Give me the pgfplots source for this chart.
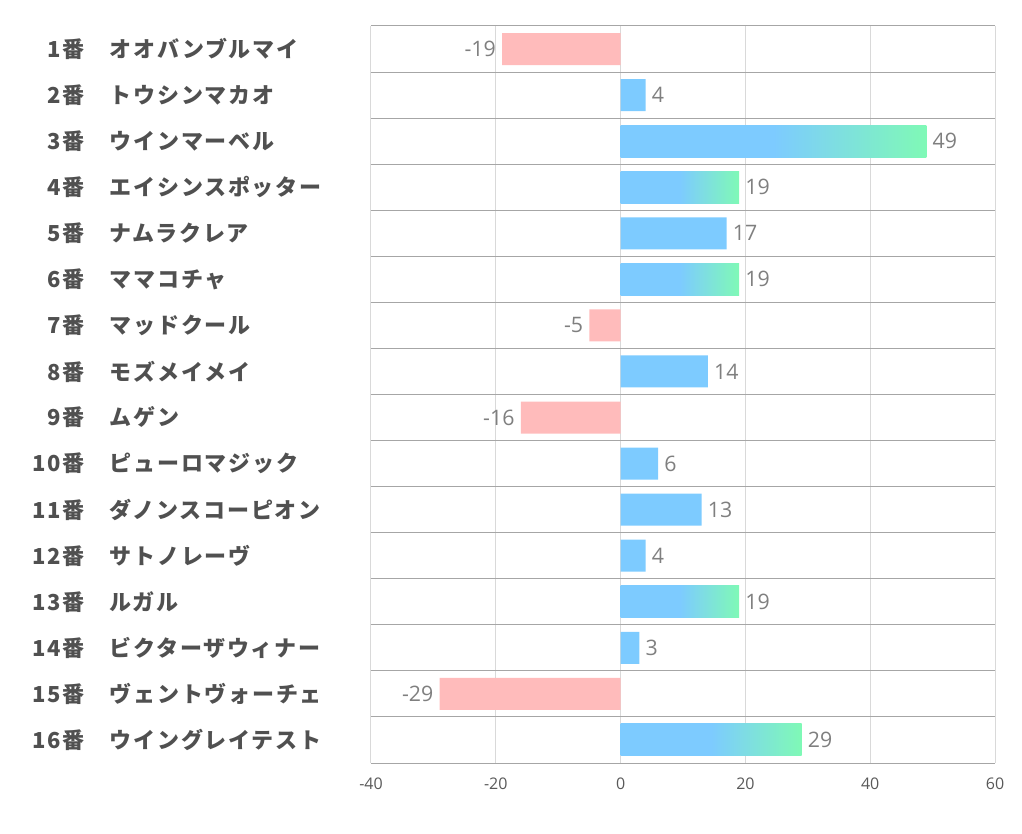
\documentclass[border=0pt]{standalone}
\usepackage{fontspec}
\usepackage{pgfplots}
\pgfplotsset{compat=1.18}
\newfontfamily\jp[LetterSpace=8]{Noto Sans CJK JP}
\newfontfamily\numfont{Open Sans}
\definecolor{barblue}{HTML}{7DCBFF}
\definecolor{bargreen}{HTML}{7FF9B6}
\definecolor{barpink}{HTML}{FFBBBB}
\definecolor{hline}{HTML}{A6A6A6}
\definecolor{vline}{HTML}{D9D9D9}
\definecolor{labgray}{HTML}{505050}
\definecolor{tickgray}{HTML}{595959}
\definecolor{numgray}{HTML}{7F7F7F}
\pgfdeclarehorizontalshading{bargrad}{100bp}{color(0bp)=(barblue); color(50bp)=(barblue); color(75bp)=(bargreen); color(100bp)=(bargreen)}
\newcommand\lab[2]{\makebox[48.75pt][r]{#1}\hspace{18.75pt}\makebox[195.75pt][l]{#2}}
\begin{document}
\begin{tikzpicture}
\path[use as bounding box] (0,0) rectangle (766.5pt,625.5pt);
\begin{axis}[at={(278.25pt,53.25pt)}, anchor=south west,
  width=468pt, height=552.75pt, scale only axis,
  xmin=-40, xmax=60, ymin=0.5, ymax=16.5, y dir=reverse,
  xtick={-40,-20,0,20,40,60}, ytick={1,...,16},
  minor ytick={0.5,1.5,...,16.5},
  xmajorgrids, yminorgrids,
  major x grid style={vline, line width=0.75pt},
  minor y grid style={hline, line width=0.75pt},
  axis line style={draw=none},
  major tick length=0pt, minor tick length=0pt,
  xbar, bar width=24pt, bar shift=0pt,
  clip=false,
  /pgf/number format/assume math mode=true,
  xticklabel style={font=\numfont\fontsize{12}{14}\selectfont, color=tickgray, yshift=-8pt},
  yticklabel style={font=\jp\bfseries\fontsize{16.5}{18}\selectfont, color=labgray, anchor=east, inner sep=0pt},
  yticklabels={
    {\lab{1番}{オオバンブルマイ}},
    {\lab{2番}{トウシンマカオ}},
    {\lab{3番}{ウインマーベル}},
    {\lab{4番}{エイシンスポッター}},
    {\lab{5番}{ナムラクレア}},
    {\lab{6番}{ママコチャ}},
    {\lab{7番}{マッドクール}},
    {\lab{8番}{モズメイメイ}},
    {\lab{9番}{ムゲン}},
    {\lab{10番}{ピューロマジック}},
    {\lab{11番}{ダノンスコーピオン}},
    {\lab{12番}{サトノレーヴ}},
    {\lab{13番}{ルガル}},
    {\lab{14番}{ビクターザウィナー}},
    {\lab{15番}{ヴェントヴォーチェ}},
    {\lab{16番}{ウイングレイテスト}}},
  nodes near coords,
  every node near coord/.append style={font=\numfont\fontsize{16}{18}\selectfont, color=numgray, anchor=west, inner xsep=4.5pt},
]
\addplot[fill=barpink, draw=none, every node near coord/.append style={anchor=east}]
  coordinates {(-19,1) (-5,7) (-16,9) (-29,15)};
\addplot[fill=barblue, draw=none]
  coordinates {(4,2) (17,5) (14,8) (6,10) (13,11) (4,12) (3,14)};
\addplot[shading=bargrad, draw=none] coordinates {(49,3)};
\addplot[shading=bargrad, draw=none] coordinates {(19,4)};
\addplot[shading=bargrad, draw=none] coordinates {(19,6)};
\addplot[shading=bargrad, draw=none] coordinates {(19,13)};
\addplot[shading=bargrad, draw=none] coordinates {(29,16)};
\end{axis}
\end{tikzpicture}
\end{document}
